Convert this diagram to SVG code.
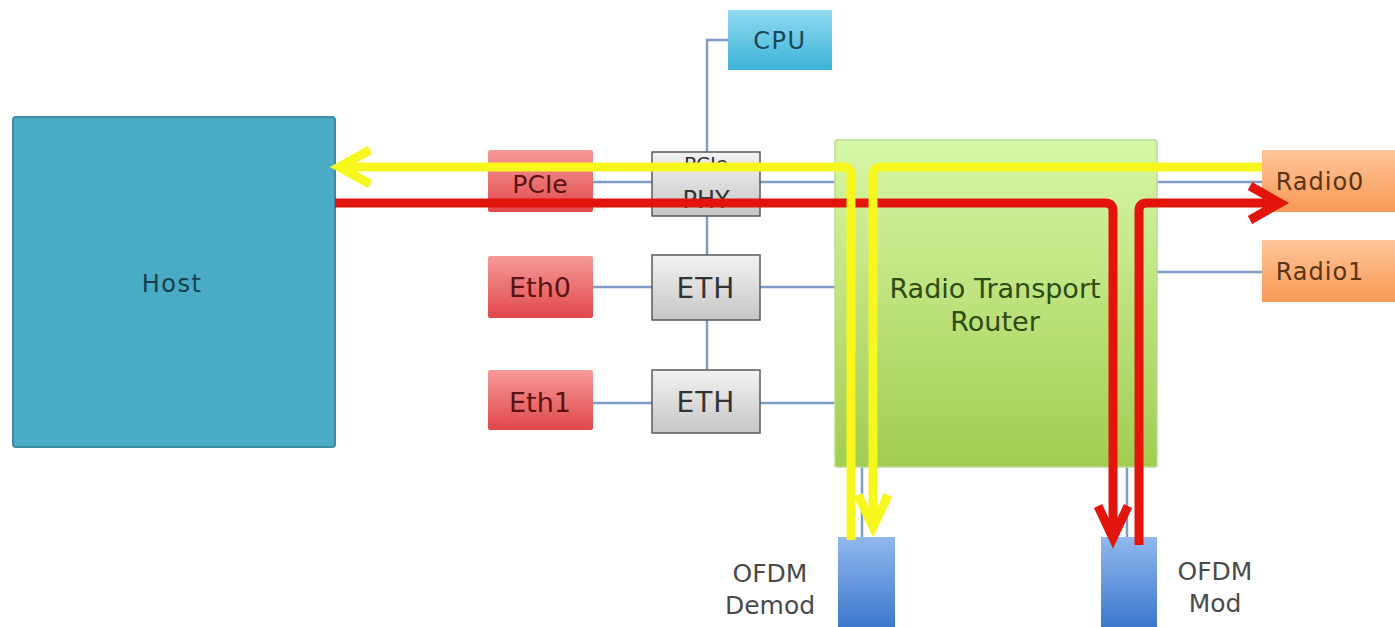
<svg xmlns="http://www.w3.org/2000/svg" width="1395" height="627" viewBox="0 0 1395 627">
<style>
text{font-family:"DejaVu Sans","Liberation Sans",sans-serif;text-anchor:middle;dominant-baseline:central}
.link{stroke:#7d9cc6;stroke-width:2.5;fill:none}
.yel{stroke:#f7f71e;stroke-width:9;fill:none}
.red{stroke:#e2140c;stroke-width:9;fill:none}
.redbox{fill:url(#gRed)}
.ethbox{fill:url(#gGrey);stroke:#5a5a5a;stroke-width:1.5}
.orbox{fill:url(#gOrange)}
.ofdm{fill:url(#gBlue)}
</style>
<defs>
<linearGradient id="gRed" x1="0" y1="0" x2="0" y2="1"><stop offset="0" stop-color="#f69a98"/><stop offset="1" stop-color="#e0484a"/></linearGradient>
<linearGradient id="gGrey" x1="0" y1="0" x2="0" y2="1"><stop offset="0" stop-color="#f2f2f2"/><stop offset="1" stop-color="#c6c6c6"/></linearGradient>
<linearGradient id="gOrange" x1="0" y1="0" x2="0" y2="1"><stop offset="0" stop-color="#ffc49a"/><stop offset="1" stop-color="#f79a55"/></linearGradient>
<linearGradient id="gBlue" x1="0" y1="0" x2="0" y2="1"><stop offset="0" stop-color="#92b8ee"/><stop offset="1" stop-color="#3c78cc"/></linearGradient>
<linearGradient id="gCpu" x1="0" y1="0" x2="0" y2="1"><stop offset="0" stop-color="#92d8f0"/><stop offset="1" stop-color="#3ab4d8"/></linearGradient>
<linearGradient id="gGreen" x1="0" y1="0" x2="0" y2="1"><stop offset="0" stop-color="#d8f7a6"/><stop offset="1" stop-color="#a2cd52"/></linearGradient>
</defs>
<rect width="1395" height="627" fill="#ffffff"/>
<g id="connectors">
<polyline class="link" points="728,40 707,40 707,370"/>
<line class="link" x1="593" y1="182" x2="652" y2="182"/>
<line class="link" x1="760" y1="182" x2="835" y2="182"/>
<line class="link" x1="1157" y1="182" x2="1262" y2="182"/>
<line class="link" x1="593" y1="287" x2="652" y2="287"/>
<line class="link" x1="760" y1="287" x2="835" y2="287"/>
<line class="link" x1="593" y1="403" x2="652" y2="403"/>
<line class="link" x1="760" y1="403" x2="835" y2="403"/>
<line class="link" x1="1157" y1="272" x2="1262" y2="272"/>
<line class="link" x1="862" y1="467" x2="862" y2="537"/>
<line class="link" x1="1127" y1="467" x2="1127" y2="537"/>
</g>
<g id="host"><rect x="13" y="117" width="322" height="330" rx="3" fill="#4aabc5" stroke="#3b8aa2" stroke-width="2"/><text x="172" y="284" font-size="24" fill="#163f4e" letter-spacing="1.5">Host</text></g>
<g id="cpu"><rect x="728" y="10" width="104" height="60" fill="url(#gCpu)"/><text x="780" y="41" font-size="24" fill="#1a4656" letter-spacing="1.5">CPU</text></g>
<g id="pcie"><rect class="redbox" x="488" y="150" width="105" height="62" rx="2"/><text x="540" y="184" font-size="25" fill="#5a1212">PCIe</text></g>
<g id="eth0"><rect class="redbox" x="488" y="256" width="105" height="62" rx="2"/><text x="540" y="287" font-size="27" fill="#5a1212">Eth0</text></g>
<g id="eth1"><rect class="redbox" x="488" y="370" width="105" height="60" rx="2"/><text x="540" y="402" font-size="27" fill="#5a1212">Eth1</text></g>
<g id="pcie-phy"><rect class="ethbox" x="652" y="152" width="108" height="64"/><text x="706" y="164" font-size="20" fill="#333">PCIe</text><text x="706" y="200" font-size="24" fill="#333">PHY</text></g>
<g id="eth-a"><rect class="ethbox" x="652" y="255" width="108" height="65"/><text x="706" y="288" font-size="28" fill="#333" letter-spacing="1">ETH</text></g>
<g id="eth-b"><rect class="ethbox" x="652" y="370" width="108" height="63"/><text x="706" y="402" font-size="28" fill="#333" letter-spacing="1">ETH</text></g>
<g id="router"><rect x="835" y="140" width="322" height="327" rx="2" fill="url(#gGreen)" stroke="#b9dc92" stroke-width="1.5"/><text x="995" y="288" font-size="27" fill="#2c4a12">Radio Transport</text><text x="995" y="321" font-size="27" fill="#2c4a12">Router</text></g>
<g id="radio0"><rect class="orbox" x="1262" y="150" width="133" height="62"/><text x="1320" y="182" font-size="24" fill="#5a3414" letter-spacing="1">Radio0</text></g>
<g id="radio1"><rect class="orbox" x="1262" y="240" width="133" height="62"/><text x="1320" y="272" font-size="24" fill="#5a3414" letter-spacing="1">Radio1</text></g>
<g id="ofdm-demod"><rect class="ofdm" x="838" y="537" width="57" height="90"/><text x="770" y="573" font-size="25" fill="#4a4a4a">OFDM</text><text x="770" y="605" font-size="25" fill="#4a4a4a">Demod</text></g>
<g id="ofdm-mod"><rect class="ofdm" x="1101" y="537" width="56" height="90"/><text x="1215" y="571" font-size="25" fill="#4a4a4a">OFDM</text><text x="1215" y="603" font-size="25" fill="#4a4a4a">Mod</text></g>
<g id="flows">
<path class="red" d="M335,203 H1105 Q1113,203 1113,211 V538"/>
<polyline class="red" points="1098,506 1113,538 1128,506"/>
<path class="red" d="M1139,545 V211 Q1139,203 1147,203 H1276"/>
<polyline class="red" points="1250,186 1280,203 1250,220"/>
<path class="yel" d="M1262,167 H881 Q873,167 873,175 V527"/>
<polyline class="yel" points="858,495 873,527 888,495"/>
<path class="yel" d="M851,540 V175 Q851,167 843,167 H342"/>
<polyline class="yel" points="370,150 339,167 370,184"/>
</g>
</svg>
